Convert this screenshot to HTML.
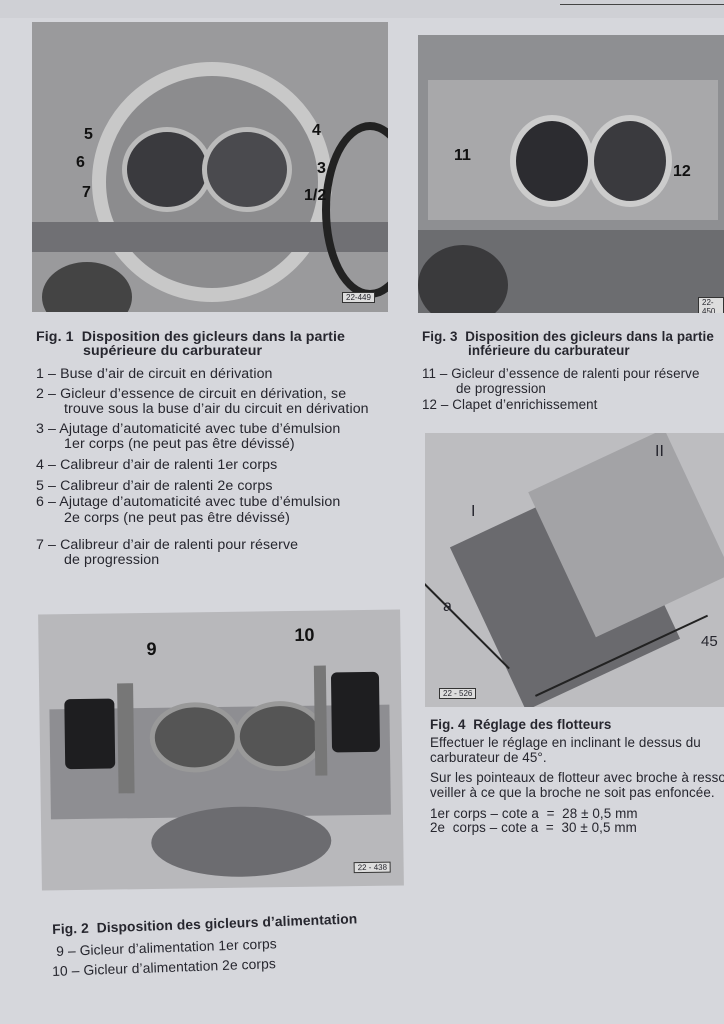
<!DOCTYPE html>
<html><head><meta charset="utf-8"><style>
body{margin:0;width:724px;height:1024px;overflow:hidden;background:#d6d7dc;font-family:"Liberation Sans",sans-serif;color:#26262e;position:relative}
.p{position:absolute;background:#8a8b8e;overflow:hidden}
.t{position:absolute;font-size:14.2px;line-height:16px;white-space:nowrap;letter-spacing:0.1px}
.r{font-size:13.4px}
.b{font-weight:bold}
.n{position:absolute;font-weight:bold;font-size:16px;color:#111}
.tag{position:absolute;font-size:8px;border:1px solid #333;background:#ddd;padding:0 3px}
.c{position:absolute;border-radius:50%}
</style></head><body>
<div style="position:absolute;left:0;top:0;width:724px;height:18px;background:#cfd0d5"></div>
<div style="position:absolute;left:560px;top:4px;width:164px;height:1px;background:#444"></div>

<!-- Fig1 photo -->
<div class="p" style="left:32px;top:22px;width:356px;height:290px;background:#9a9a9c">
 <div class="c" style="left:60px;top:40px;width:240px;height:240px;border:14px solid #c8c8c8;box-sizing:border-box;background:#8c8c8e"></div>
 <div class="c" style="left:90px;top:105px;width:80px;height:75px;background:#3a3a3e;border:5px solid #bbb"></div>
 <div class="c" style="left:170px;top:105px;width:80px;height:75px;background:#4a4a4e;border:5px solid #bbb"></div>
 <div style="position:absolute;left:0;top:200px;width:356px;height:30px;background:#707074"></div>
 <div class="c" style="left:10px;top:240px;width:90px;height:70px;background:#444"></div>
 <div class="c" style="left:290px;top:100px;width:80px;height:160px;border:8px solid #222;background:transparent"></div>
 <div class="tag" style="left:310px;top:270px">22-449</div>
 <span class="n" style="left:52px;top:104px">5</span><span class="n" style="left:44px;top:132px">6</span><span class="n" style="left:50px;top:162px">7</span>
 <span class="n" style="left:280px;top:100px">4</span><span class="n" style="left:285px;top:138px">3</span><span class="n" style="left:272px;top:165px">1/2</span>
</div>

<!-- Fig3 photo -->
<div class="p" style="left:418px;top:35px;width:306px;height:278px;background:#8e8f92">
 <div style="position:absolute;left:10px;top:45px;width:290px;height:140px;background:#a8a8aa"></div>
 <div class="c" style="left:92px;top:80px;width:72px;height:80px;background:#2c2c30;border:6px solid #ccc"></div>
 <div class="c" style="left:170px;top:80px;width:72px;height:80px;background:#3a3a3e;border:6px solid #ccc"></div>
 <div style="position:absolute;left:0;top:195px;width:306px;height:83px;background:#6c6d70"></div>
 <div class="c" style="left:0;top:210px;width:90px;height:80px;background:#3a3a3c"></div>
 <div class="tag" style="left:280px;top:262px">22-450</div>
 <span class="n" style="left:36px;top:112px">11</span><span class="n" style="left:255px;top:128px">12</span>
</div>

<div class="t b" style="left:36px;top:329px">Fig. 1 &nbsp;Disposition des gicleurs dans la partie</div>
<div class="t b" style="left:83px;top:343px">supérieure du carburateur</div>
<div class="t" style="left:36px;top:366px">1 – Buse d’air de circuit en dérivation</div>
<div class="t" style="left:36px;top:386px">2 – Gicleur d’essence de circuit en dérivation, se</div>
<div class="t" style="left:64px;top:401px">trouve sous la buse d’air du circuit en dérivation</div>
<div class="t" style="left:36px;top:421px">3 – Ajutage d’automaticité avec tube d’émulsion</div>
<div class="t" style="left:64px;top:436px">1er corps (ne peut pas être dévissé)</div>
<div class="t" style="left:36px;top:457px">4 – Calibreur d’air de ralenti 1er corps</div>
<div class="t" style="left:36px;top:478px">5 – Calibreur d’air de ralenti 2e corps</div>
<div class="t" style="left:36px;top:494px">6 – Ajutage d’automaticité avec tube d’émulsion</div>
<div class="t" style="left:64px;top:510px">2e corps (ne peut pas être dévissé)</div>
<div class="t" style="left:36px;top:537px">7 – Calibreur d’air de ralenti pour réserve</div>
<div class="t" style="left:64px;top:552px">de progression</div>

<div class="t r b" style="left:422px;top:329px">Fig. 3 &nbsp;Disposition des gicleurs dans la partie</div>
<div class="t r b" style="left:468px;top:343px">inférieure du carburateur</div>
<div class="t r" style="left:422px;top:366px">11 – Gicleur d’essence de ralenti pour réserve</div>
<div class="t r" style="left:456px;top:381px">de progression</div>
<div class="t r" style="left:422px;top:397px">12 – Clapet d’enrichissement</div>

<!-- Fig4 photo -->
<div class="p" style="left:425px;top:433px;width:299px;height:274px;background:#bdbdc0">
 <div style="position:absolute;left:55px;top:70px;width:170px;height:180px;background:#6a6a6e;transform:rotate(-25deg)"></div>
 <div style="position:absolute;left:130px;top:20px;width:150px;height:160px;background:#a3a3a6;transform:rotate(-25deg)"></div>
 <div style="position:absolute;left:0;top:150px;width:120px;height:2px;background:#222;transform:rotate(45deg);transform-origin:0 0"></div>
 <div style="position:absolute;left:110px;top:262px;width:190px;height:2px;background:#222;transform:rotate(-25deg);transform-origin:0 0"></div>
 <span style="position:absolute;left:18px;top:165px;font-size:16px">a</span>
 <span style="position:absolute;left:46px;top:70px;font-size:16px">I</span>
 <span style="position:absolute;left:230px;top:10px;font-size:16px">II</span>
 <span style="position:absolute;left:276px;top:200px;font-size:15px">45</span>
 <div class="tag" style="left:14px;top:255px">22 - 526</div>
</div>

<div class="t r b" style="left:430px;top:717px">Fig. 4 &nbsp;Réglage des flotteurs</div>
<div class="t r" style="left:430px;top:735px">Effectuer le réglage en inclinant le dessus du</div>
<div class="t r" style="left:430px;top:750px">carburateur de 45°.</div>
<div class="t r" style="left:430px;top:770px">Sur les pointeaux de flotteur avec broche à resso</div>
<div class="t r" style="left:430px;top:785px">veiller à ce que la broche ne soit pas enfoncée.</div>
<div class="t r" style="left:430px;top:806px">1er corps – cote a &nbsp;= &nbsp;28 ± 0,5 mm</div>
<div class="t r" style="left:430px;top:820px">2e &nbsp;corps – cote a &nbsp;= &nbsp;30 ± 0,5 mm</div>

<!-- Fig2 photo -->
<div class="p" style="left:40px;top:612px;width:362px;height:276px;background:#b8b8bb;transform:rotate(-0.8deg)">
 <div style="position:absolute;left:10px;top:95px;width:340px;height:110px;background:#8e8e92"></div>
 <div class="c" style="left:110px;top:90px;width:80px;height:60px;background:#555;border:5px solid #999"></div>
 <div class="c" style="left:195px;top:90px;width:80px;height:60px;background:#555;border:5px solid #999"></div>
 <div style="position:absolute;left:25px;top:85px;width:50px;height:70px;background:#1e1e20;border-radius:6px"></div>
 <div style="position:absolute;left:292px;top:62px;width:48px;height:80px;background:#1e1e20;border-radius:6px"></div>
 <div style="position:absolute;left:78px;top:70px;width:16px;height:110px;background:#777"></div>
 <div style="position:absolute;left:275px;top:55px;width:12px;height:110px;background:#777"></div>
 <div class="c" style="left:110px;top:195px;width:180px;height:70px;background:#6c6c70"></div>
 <div class="tag" style="left:312px;top:252px">22 - 438</div>
 <span class="n" style="left:108px;top:26px;font-size:18px">9</span><span class="n" style="left:256px;top:14px;font-size:18px">10</span>
</div>

<div class="t b" style="left:52px;top:922px;font-size:13.8px;transform:rotate(-2deg);transform-origin:0 0">Fig. 2 &nbsp;Disposition des gicleurs d’alimentation</div>
<div class="t" style="left:56px;top:944px;font-size:13.8px;transform:rotate(-2deg);transform-origin:0 0">9 – Gicleur d’alimentation 1er corps</div>
<div class="t" style="left:52px;top:964px;font-size:13.8px;transform:rotate(-2deg);transform-origin:0 0">10 – Gicleur d’alimentation 2e corps</div>
</body></html>
